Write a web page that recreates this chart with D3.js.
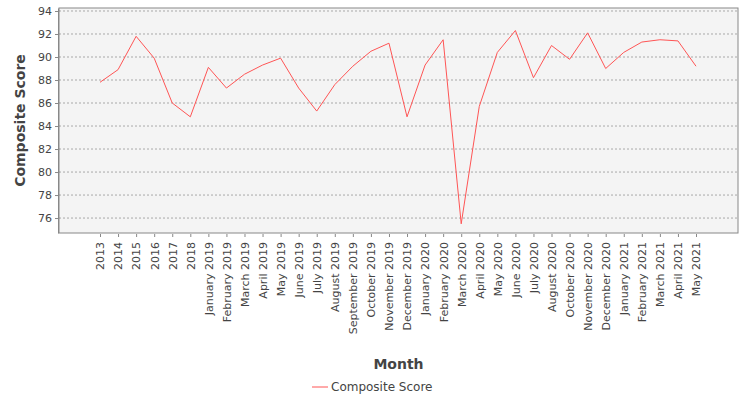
<!DOCTYPE html>
<html><head><meta charset="utf-8">
<script src="https://cdn.jsdelivr.net/npm/d3@7"></script>
<style>body{margin:0;background:#fff}text{font-family:"DejaVu Sans",sans-serif}</style>
</head><body><svg width="750" height="400"></svg>
<script>
var months = ['2013','2014','2015','2016','2017','2018',
  'January 2019','February 2019','March 2019','April 2019','May 2019','June 2019','July 2019','August 2019','September 2019','October 2019','November 2019','December 2019',
  'January 2020','February 2020','March 2020','April 2020','May 2020','June 2020','July 2020','August 2020','October 2020','November 2020','December 2020',
  'January 2021','February 2021','March 2021','April 2021','May 2021'];
var scores = [87.8,88.9,91.8,89.9,86.0,84.8,
  89.1,87.3,88.5,89.3,89.9,87.3,85.3,87.6,89.2,90.5,91.2,84.8,
  89.3,91.5,75.5,85.7,90.4,92.3,88.2,91.0,89.8,92.1,89.0,
  90.4,91.3,91.5,91.4,89.2];
var yTicks = [76,78,80,82,84,86,88,90,92,94];

var svg = d3.select('svg');
var plotL = 59, plotR = 738, plotT = 8, plotB = 233;

var x = d3.scalePoint().domain(months).range([100, 696]);
var y = d3.scaleLinear().domain([74.7, 94.26]).range([plotB, plotT]);

svg.append('rect').attr('x', plotL).attr('y', plotT).attr('width', plotR - plotL).attr('height', plotB - plotT)
  .attr('fill', '#f4f4f4').attr('stroke', '#888');

svg.selectAll('.grid').data(yTicks).enter().append('line')
  .attr('x1', plotL).attr('x2', plotR).attr('y1', y).attr('y2', y)
  .attr('stroke', '#777').attr('stroke-width', 0.6).attr('stroke-dasharray', '2,2');

var yAxis = svg.append('g').attr('transform', 'translate(' + (plotL - 1) + ',0)')
  .call(d3.axisLeft(y).tickValues(yTicks).tickSize(3).tickSizeOuter(0));
yAxis.select('.domain').attr('stroke', '#888');
yAxis.selectAll('text').attr('font-size', 11).attr('fill', '#444');
yAxis.selectAll('line').attr('stroke', '#888');

var xAxis = svg.append('g').attr('transform', 'translate(0,' + (plotB + 1) + ')')
  .call(d3.axisBottom(x).tickSize(3).tickSizeOuter(0));
xAxis.select('.domain').remove();
xAxis.selectAll('line').attr('stroke', '#888');
xAxis.selectAll('text').attr('font-size', 11).attr('fill', '#444')
  .attr('transform', 'rotate(-90)').attr('text-anchor', 'end')
  .attr('x', -8).attr('y', 0).attr('dy', '0.35em');

svg.append('path').datum(scores)
  .attr('d', d3.line().x(function (d, i) { return x(months[i]); }).y(y))
  .attr('fill', 'none').attr('stroke', '#ff5555').attr('stroke-width', 1);

svg.append('text').attr('transform', 'translate(25,' + ((plotT + plotB) / 2) + ') rotate(-90)')
  .attr('text-anchor', 'middle').attr('font-size', 14).attr('font-weight', 'bold').attr('fill', '#444')
  .text('Composite Score');
svg.append('text').attr('x', (plotL + plotR) / 2).attr('y', 369)
  .attr('text-anchor', 'middle').attr('font-size', 14).attr('font-weight', 'bold').attr('fill', '#444')
  .text('Month');

svg.append('line').attr('x1', 312).attr('x2', 328).attr('y1', 387).attr('y2', 387).attr('stroke', '#ff5555');
svg.append('text').attr('x', 331).attr('y', 391).attr('font-size', 12).attr('fill', '#444').text('Composite Score');
</script></body></html>
